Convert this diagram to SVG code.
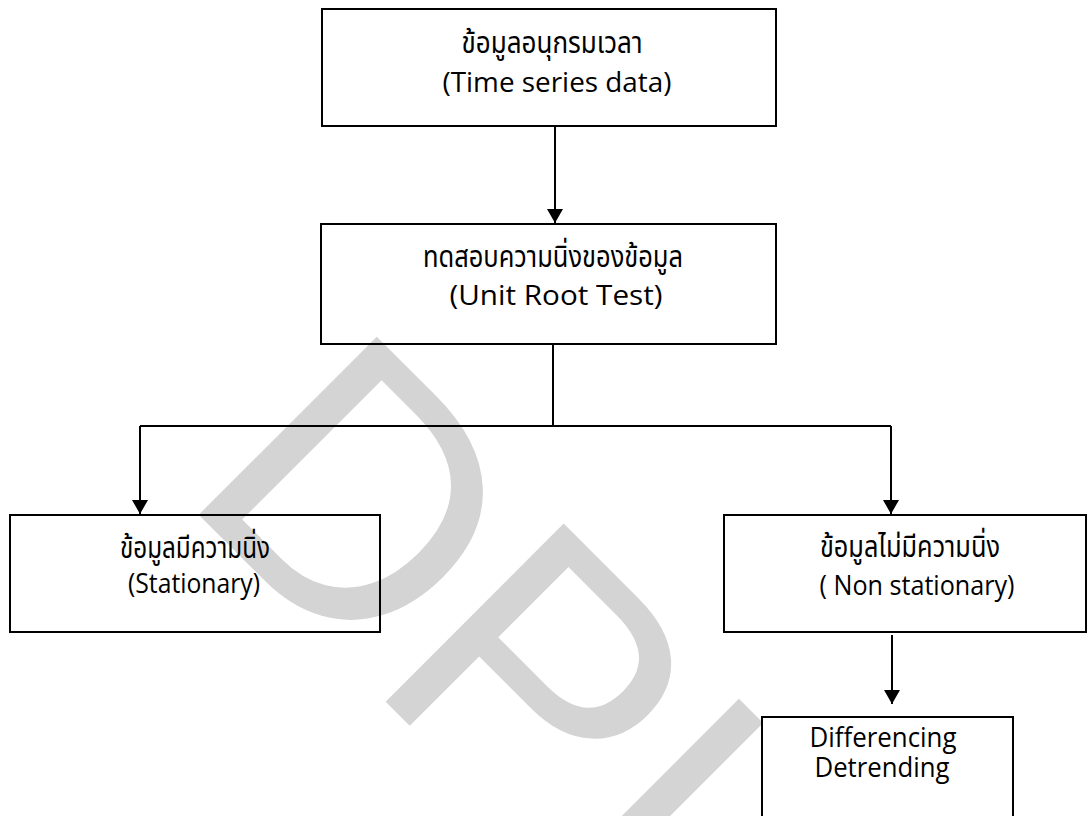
<svg xmlns="http://www.w3.org/2000/svg" width="1088" height="816" viewBox="0 0 1088 816">
<style>
.box{fill:none;stroke:#000;stroke-width:2}
.conn{fill:none;stroke:#000;stroke-width:2}
.en{font-family:'Open Sans','Noto Sans',sans-serif;font-size:28px;fill:#000;text-anchor:middle}
.th{font-family:'Noto Sans Thai','Noto Sans',sans-serif;font-size:31px;fill:#000;text-anchor:middle}
.wm{font-family:'Liberation Sans',Arial,sans-serif;font-size:366px;fill:#d4d4d4}
</style>
<defs>
<marker id="ah" viewBox="0 0 14 16" refX="14" refY="8" markerWidth="14" markerHeight="16" markerUnits="userSpaceOnUse" orient="auto">
<path d="M0,0 L14,8 L0,16 z" fill="#000"/>
</marker>
</defs>
<rect width="1088" height="816" fill="#fff"/>
<text class="wm" transform="translate(177.5,493.5) rotate(45)">DPI</text>
<g id="connectors">
<path class="conn" d="M555,126 V223" marker-end="url(#ah)"/>
<path class="conn" d="M553,344 V426 M140,426 H891"/>
<path class="conn" d="M140,426 V514" marker-end="url(#ah)"/>
<path class="conn" d="M891,426 V514" marker-end="url(#ah)"/>
<path class="conn" d="M892,635 V704" marker-end="url(#ah)"/>
</g>
<g id="n-timeseries">
<rect class="box" x="322" y="9" width="454" height="117"/>
<text class="th" x="552" y="53" textLength="181" lengthAdjust="spacingAndGlyphs">ข้อมูลอนุกรมเวลา</text>
<text class="en" x="557" y="92" textLength="229" lengthAdjust="spacingAndGlyphs">(Time series data)</text>
</g>
<g id="n-unitroot">
<rect class="box" x="321" y="224" width="455" height="120"/>
<text class="th" x="553" y="267" textLength="260" lengthAdjust="spacingAndGlyphs">ทดสอบความนิ่งของข้อมูล</text>
<text class="en" x="556" y="305" textLength="213" lengthAdjust="spacingAndGlyphs">(Unit Root Test)</text>
</g>
<g id="n-stationary">
<rect class="box" x="10" y="515" width="370" height="117"/>
<text class="th" x="195" y="558" textLength="150" lengthAdjust="spacingAndGlyphs">ข้อมูลมีความนิ่ง</text>
<text class="en" x="194" y="593" textLength="132" lengthAdjust="spacingAndGlyphs">(Stationary)</text>
</g>
<g id="n-nonstationary">
<rect class="box" x="724" y="515" width="362" height="117"/>
<text class="th" x="910" y="557" textLength="180" lengthAdjust="spacingAndGlyphs">ข้อมูลไม่มีความนิ่ง</text>
<text class="en" x="917" y="595" textLength="195" lengthAdjust="spacingAndGlyphs">( Non stationary)</text>
</g>
<g id="n-differencing">
<rect class="box" x="762" y="717" width="251" height="120"/>
<text class="en" x="883" y="747" textLength="147" lengthAdjust="spacingAndGlyphs">Differencing</text>
<text class="en" x="882" y="777" textLength="135" lengthAdjust="spacingAndGlyphs">Detrending</text>
</g>
</svg>
